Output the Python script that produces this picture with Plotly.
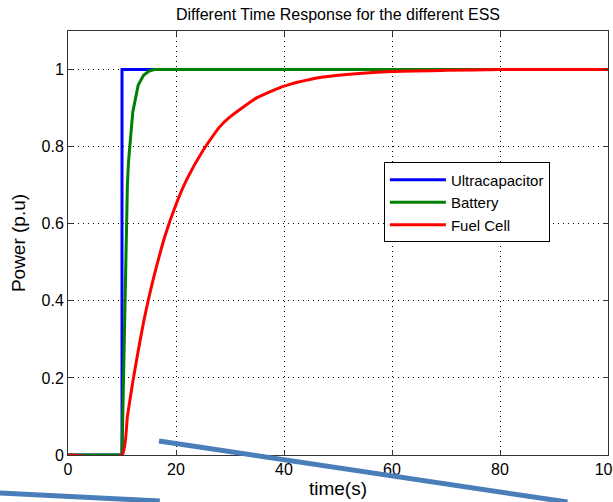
import plotly.graph_objects as go

# Time axis samples (s) and power responses (p.u) for each storage device
t_ultra = [0, 10, 10, 100]
p_ultra = [0, 0, 1, 1]

t_batt = [0, 10, 11, 11.2, 12, 12.5, 13, 14, 15, 16, 20, 100]
p_batt = [0, 0, 0.70, 0.76, 0.89, 0.93, 0.96, 0.985, 0.996, 1.0, 1.0, 1.0]

t_fc = [0, 10, 11, 12, 13, 14, 15, 16, 18, 20, 22, 25, 28, 30, 35, 40, 45, 50, 60, 70, 80, 100]
p_fc = [0, 0, 0.10, 0.19, 0.27, 0.345, 0.41, 0.468, 0.57, 0.65, 0.715, 0.79, 0.85, 0.877,
        0.927, 0.957, 0.975, 0.985, 0.995, 0.998, 1.0, 1.0]

x_ticks = [0, 20, 40, 60, 80, 100]
y_ticks = [0, 0.2, 0.4, 0.6, 0.8, 1]

FONT = "Liberation Sans, Arial, sans-serif"

fig = go.Figure()
fig.add_trace(go.Scatter(x=t_ultra, y=p_ultra, mode="lines", name="Ultracapacitor",
                         line=dict(color="#0000FF", width=3)))
fig.add_trace(go.Scatter(x=t_batt, y=p_batt, mode="lines", name="Battery",
                         line=dict(color="#008000", width=3)))
fig.add_trace(go.Scatter(x=t_fc, y=p_fc, mode="lines", name="Fuel Cell",
                         line=dict(color="#FF0000", width=3, shape="spline", smoothing=0.5)))

axis_common = dict(
    showline=True, linecolor="#333333", linewidth=1, mirror="ticks",
    ticks="inside", ticklen=5, tickcolor="#333333",
    showgrid=True, gridcolor="#000000", gridwidth=1, griddash="1px,4px",
    zeroline=False, tickfont=dict(family=FONT, size=16, color="#000000"),
)

fig.update_layout(
    width=613, height=502,
    margin=dict(l=68, r=5, t=31, b=47, autoexpand=False),
    paper_bgcolor="white", plot_bgcolor="white",
    font=dict(family=FONT, size=16, color="#000000"),
    title=dict(text="Different Time Response for the different ESS",
               x=0.5, xref="paper", xanchor="center", y=1 - 14 / 502, yanchor="middle",
               font=dict(family=FONT, size=16, color="#000000")),
    xaxis=dict(range=[0, 100], tickvals=x_ticks, ticklabeloverflow="allow",
               title=dict(text="time(s)", standoff=4), **axis_common),
    yaxis=dict(range=[0, 1.1], tickvals=y_ticks, ticktext=[f"{v:g}" for v in y_ticks],
               title=dict(text="Power (p.u)", standoff=10), **axis_common),
    legend=dict(x=0.585, y=0.69, xanchor="left", yanchor="top",
                bgcolor="white", bordercolor="#000000", borderwidth=1,
                font=dict(family=FONT, size=15, color="#000000"),
                itemwidth=56, tracegroupgap=0),
    showlegend=True,
    shapes=[
        dict(type="line", xref="paper", yref="paper",
             x0=0.1685, y0=0.033, x1=0.925, y1=-0.111,
             line=dict(color="#4A7EBB", width=5)),
        dict(type="line", xref="paper", yref="paper",
             x0=-0.126, y0=-0.0896, x1=0.170, y1=-0.1085,
             line=dict(color="#4A7EBB", width=5)),
    ],
)

fig.write_html("out.html")
